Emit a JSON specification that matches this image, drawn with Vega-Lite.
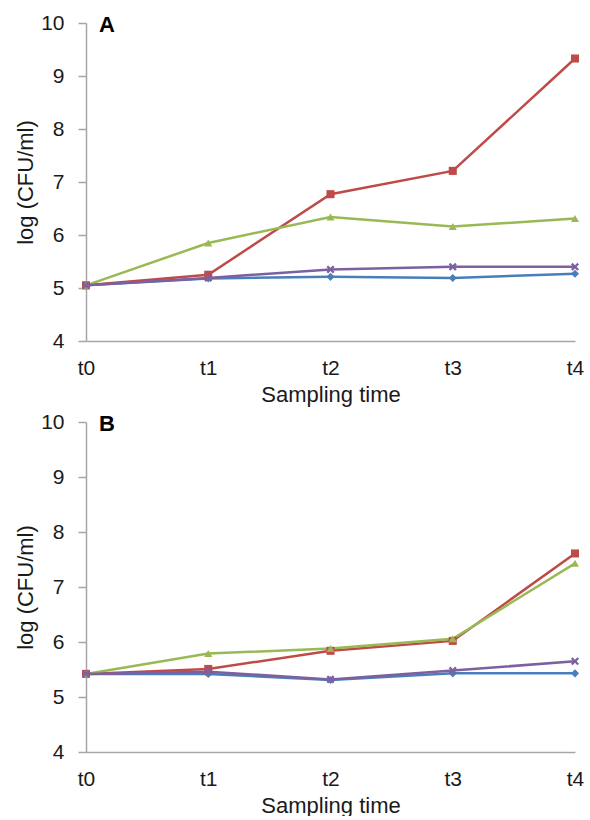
{
  "$schema": "https://vega.github.io/schema/vega-lite/v6.json",
  "background": "white",
  "padding": {"left": 14, "top": 12, "right": 10, "bottom": 0},
  "spacing": 6,
  "config": {
    "view": {"stroke": null},
    "font": "Liberation Sans",
    "text": {"font": "Liberation Sans"},
    "axis": {
      "grid": false,
      "domainColor": "#a6a6a6",
      "domainWidth": 1.5,
      "tickColor": "#a6a6a6",
      "tickWidth": 1.5,
      "labelColor": "#1a1a1a",
      "labelFont": "Liberation Sans",
      "labelFontSize": 21,
      "titleColor": "#1a1a1a",
      "titleFont": "Liberation Sans",
      "titleFontSize": 22,
      "titleFontWeight": "normal"
    }
  },
  "datasets": {
    "A": [
      {"series": "S1", "time": "t0", "value": 5.05},
      {"series": "S1", "time": "t1", "value": 5.18},
      {"series": "S1", "time": "t2", "value": 5.21},
      {"series": "S1", "time": "t3", "value": 5.19},
      {"series": "S1", "time": "t4", "value": 5.27},
      {"series": "S2", "time": "t0", "value": 5.05},
      {"series": "S2", "time": "t1", "value": 5.25},
      {"series": "S2", "time": "t2", "value": 6.77},
      {"series": "S2", "time": "t3", "value": 7.21},
      {"series": "S2", "time": "t4", "value": 9.33},
      {"series": "S3", "time": "t0", "value": 5.05},
      {"series": "S3", "time": "t1", "value": 5.85},
      {"series": "S3", "time": "t2", "value": 6.34},
      {"series": "S3", "time": "t3", "value": 6.16},
      {"series": "S3", "time": "t4", "value": 6.31},
      {"series": "S4", "time": "t0", "value": 5.05},
      {"series": "S4", "time": "t1", "value": 5.19},
      {"series": "S4", "time": "t2", "value": 5.35},
      {"series": "S4", "time": "t3", "value": 5.40},
      {"series": "S4", "time": "t4", "value": 5.40}
    ],
    "B": [
      {"series": "S1", "time": "t0", "value": 5.42},
      {"series": "S1", "time": "t1", "value": 5.42},
      {"series": "S1", "time": "t2", "value": 5.31},
      {"series": "S1", "time": "t3", "value": 5.43},
      {"series": "S1", "time": "t4", "value": 5.43},
      {"series": "S2", "time": "t0", "value": 5.42},
      {"series": "S2", "time": "t1", "value": 5.51},
      {"series": "S2", "time": "t2", "value": 5.84},
      {"series": "S2", "time": "t3", "value": 6.02},
      {"series": "S2", "time": "t4", "value": 7.61},
      {"series": "S3", "time": "t0", "value": 5.42},
      {"series": "S3", "time": "t1", "value": 5.79},
      {"series": "S3", "time": "t2", "value": 5.88},
      {"series": "S3", "time": "t3", "value": 6.06},
      {"series": "S3", "time": "t4", "value": 7.43},
      {"series": "S4", "time": "t0", "value": 5.42},
      {"series": "S4", "time": "t1", "value": 5.46},
      {"series": "S4", "time": "t2", "value": 5.32},
      {"series": "S4", "time": "t3", "value": 5.48},
      {"series": "S4", "time": "t4", "value": 5.65}
    ],
    "labelA": [{"label": "A", "time": "t0", "value": 10}],
    "labelB": [{"label": "B", "time": "t0", "value": 10}]
  },
  "vconcat": [
    {
      "width": 489,
      "height": 318,
      "encoding": {
        "x": {"field": "time", "type": "ordinal", "scale": {"type": "point", "padding": 0}, "axis": {"title": "Sampling time", "labelAngle": 0, "ticks": false, "labelPadding": 16, "titlePadding": 6}},
        "y": {"field": "value", "type": "quantitative", "scale": {"domain": [4, 10], "nice": false}, "axis": {"title": "log (CFU/ml)", "values": [4, 5, 6, 7, 8, 9, 10], "tickSize": 8, "labelPadding": 14, "titlePadding": 3}}
      },
      "layer": [
        {
          "data": {"name": "A"},
          "mark": {"type": "line", "strokeWidth": 2.5},
          "encoding": {
            "color": {"field": "series", "type": "nominal", "scale": {"domain": ["S1", "S2", "S3", "S4"], "range": ["#4a7ebb", "#be4b48", "#98b954", "#7d60a0"]}, "legend": null}
          }
        },
        {
          "data": {"name": "A"},
          "mark": {"type": "point", "filled": true, "opacity": 1},
          "encoding": {
            "color": {"field": "series", "type": "nominal", "legend": null},
            "shape": {"field": "series", "type": "nominal", "scale": {"domain": ["S1", "S2", "S3", "S4"], "range": ["diamond", "square", "triangle-up", "M-1,-0.6L-0.6,-1L0,-0.4L0.6,-1L1,-0.6L0.4,0L1,0.6L0.6,1L0,0.4L-0.6,1L-1,0.6L-0.4,0Z"]}, "legend": null},
            "size": {"value": 65}
          }
        },
        {
          "data": {"name": "labelA"},
          "mark": {"type": "text", "align": "left", "baseline": "middle", "dx": 13, "dy": 2, "fontSize": 22, "fontWeight": "bold", "fill": "#000000"},
          "encoding": {
            "text": {"field": "label", "type": "nominal"}
          }
        }
      ]
    },
    {
      "width": 489,
      "height": 330,
      "encoding": {
        "x": {"field": "time", "type": "ordinal", "scale": {"type": "point", "padding": 0}, "axis": {"title": "Sampling time", "labelAngle": 0, "ticks": false, "labelPadding": 16, "titlePadding": 6}},
        "y": {"field": "value", "type": "quantitative", "scale": {"domain": [4, 10], "nice": false}, "axis": {"title": "log (CFU/ml)", "values": [4, 5, 6, 7, 8, 9, 10], "tickSize": 8, "labelPadding": 14, "titlePadding": 3}}
      },
      "layer": [
        {
          "data": {"name": "B"},
          "mark": {"type": "line", "strokeWidth": 2.5},
          "encoding": {
            "color": {"field": "series", "type": "nominal", "scale": {"domain": ["S1", "S2", "S3", "S4"], "range": ["#4a7ebb", "#be4b48", "#98b954", "#7d60a0"]}, "legend": null}
          }
        },
        {
          "data": {"name": "B"},
          "mark": {"type": "point", "filled": true, "opacity": 1},
          "encoding": {
            "color": {"field": "series", "type": "nominal", "legend": null},
            "shape": {"field": "series", "type": "nominal", "scale": {"domain": ["S1", "S2", "S3", "S4"], "range": ["diamond", "square", "triangle-up", "M-1,-0.6L-0.6,-1L0,-0.4L0.6,-1L1,-0.6L0.4,0L1,0.6L0.6,1L0,0.4L-0.6,1L-1,0.6L-0.4,0Z"]}, "legend": null},
            "size": {"value": 65}
          }
        },
        {
          "data": {"name": "labelB"},
          "mark": {"type": "text", "align": "left", "baseline": "middle", "dx": 13, "dy": 2, "fontSize": 22, "fontWeight": "bold", "fill": "#000000"},
          "encoding": {
            "text": {"field": "label", "type": "nominal"}
          }
        }
      ]
    }
  ]
}
